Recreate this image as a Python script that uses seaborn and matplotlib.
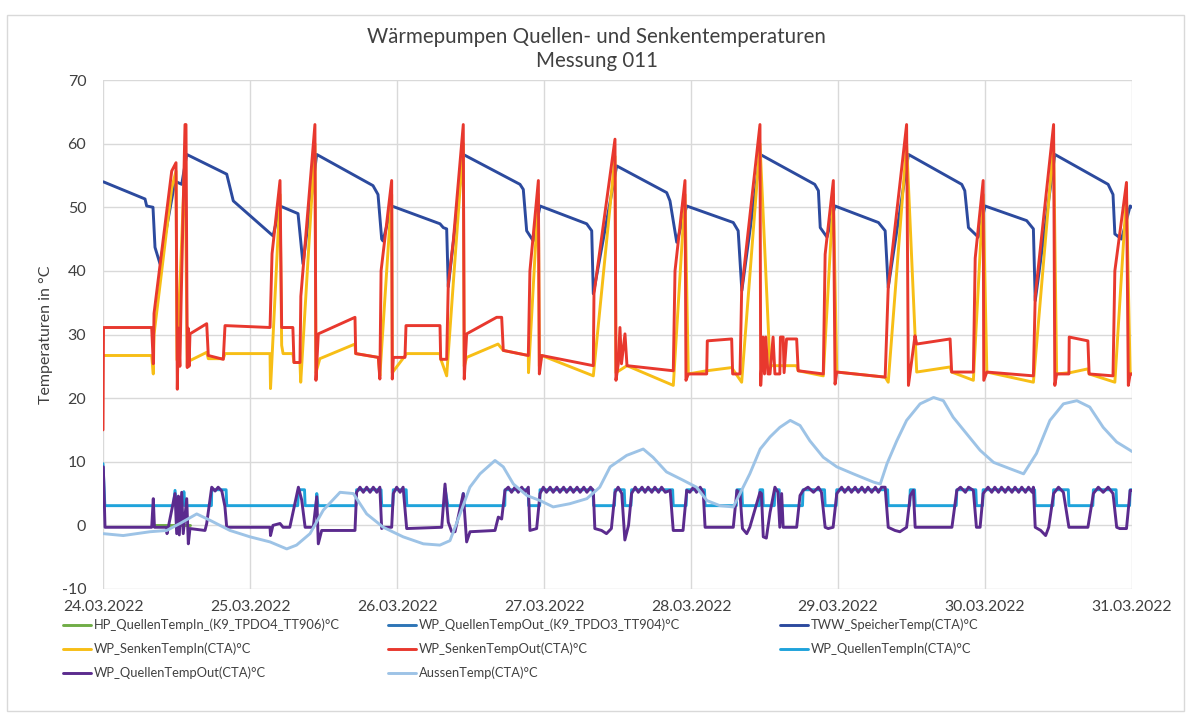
import matplotlib
matplotlib.use("Agg")
import matplotlib.pyplot as plt
from matplotlib.lines import Line2D
from matplotlib.patches import Rectangle
import seaborn as sns
import pandas as pd

# ---------------- data (time in hours since 24.03.2022 00:00) ----------------
date_labels = ["24.03.2022", "25.03.2022", "26.03.2022", "27.03.2022",
               "28.03.2022", "29.03.2022", "30.03.2022", "31.03.2022"]
y_ticks = [-10, 0, 10, 20, 30, 40, 50, 60, 70]

series_names = [
    "HP_QuellenTempIn_(K9_TPDO4_TT906)°C",
    "WP_QuellenTempOut_(K9_TPDO3_TT904)°C",
    "TWW_SpeicherTemp(CTA)°C",
    "WP_SenkenTempIn(CTA)°C",
    "WP_SenkenTempOut(CTA)°C",
    "WP_QuellenTempIn(CTA)°C",
    "WP_QuellenTempOut(CTA)°C",
    "AussenTemp(CTA)°C",
]

hp_in_h = [8.2, 14.2]
hp_in_v = [0.0, 0.0]

k9_out_h = []
k9_out_v = []

tww_h = [0.05, 6.86, 7.13, 8.16, 8.49, 9.31, 11.76, 12.85, 13.67, 20.2, 21.27, 27.76,
         28.9, 31.84, 32.65, 34.89, 44.08, 44.9, 45.5, 45.71, 47.13, 55.02, 55.56, 56.11,
         56.37, 58.82, 68.08, 68.62, 69.17, 70.25, 71.35, 78.97, 79.79, 80.05, 83.87,
         92.03, 92.57, 93.67, 95.3, 102.9, 103.7, 104.3, 107.3, 116.2, 116.8, 117.1,
         118.2, 119.5, 126.6, 127.7, 128.2, 131.5, 140.2, 140.7, 141.3, 142.9, 144.0,
         150.8, 151.9, 152.2, 155.4, 164.1, 164.9, 165.2, 166.3, 167.7, 168.0]
tww_v = [54.0, 51.3, 50.2, 50.0, 43.7, 41.1, 54.1, 53.6, 58.3, 55.2, 51.0, 45.5,
         50.2, 49.0, 41.1, 58.3, 53.4, 52.0, 45.0, 44.7, 50.2, 47.4, 46.8, 46.6,
         37.5, 58.3, 53.6, 52.8, 46.3, 44.7, 50.2, 47.4, 46.3, 36.4, 56.5,
         52.3, 51.0, 44.5, 50.2, 47.6, 46.3, 36.9, 58.3, 53.6, 52.6, 46.8,
         45.3, 50.2, 47.6, 46.3, 37.4, 58.3, 53.6, 52.6, 46.8, 45.3, 50.2,
         47.9, 46.6, 35.3, 58.3, 53.6, 52.0, 45.8, 45.0, 50.2, 50.0]

senk_in_h = [0.0, 7.95, 8.21, 8.33, 11.22, 11.92, 12.08, 13.39, 13.76, 14.2, 16.93, 17.19,
             19.64, 19.92, 27.27, 27.35, 28.9, 29.17, 29.4, 31.0, 31.18, 32.16, 32.28,
             34.6, 34.77, 35.4, 41.14, 41.26, 44.95, 45.2, 47.13, 47.23, 49.58, 55.02,
             55.2, 56.11, 58.82, 58.98, 59.37, 64.5, 65.35, 69.44, 69.47, 71.08, 71.24,
             71.63, 80.05, 83.59, 83.75, 85.55, 93.11, 95.02, 95.56, 98.56, 102.64,
             104.27, 107.26, 108.9, 113.25, 113.5, 117.6, 119.24, 119.8, 127.7, 128.2,
             131.2, 132.85, 138.3, 138.56, 142.1, 143.7, 144.3, 151.9, 155.2, 155.7,
             157.9, 160.8, 161.0, 165.2, 167.1, 167.7, 168.0]
senk_in_v = [26.7, 26.7, 23.8, 30.0, 53.0, 55.7, 26.0, 58.0, 25.0, 25.9, 27.2, 26.2,
             26.2, 27.0, 27.0, 21.5, 52.0, 28.3, 27.0, 27.0, 25.6, 25.6, 22.5,
             60.0, 24.0, 26.2, 28.5, 27.0, 26.4, 23.5, 52.0, 24.0, 27.0, 27.0,
             26.0, 23.5, 60.0, 25.0, 26.4, 28.5, 27.5, 26.7, 24.0, 52.0, 25.0,
             26.7, 23.5, 58.0, 24.0, 25.1, 22.0, 52.0, 23.8, 24.3, 24.8,
             22.5, 60.0, 25.1, 25.1, 24.3, 23.5, 52.0, 24.1, 23.3, 22.5,
             60.0, 24.1, 24.9, 24.1, 22.8, 52.0, 24.1, 22.5, 60.0, 23.8,
             24.0, 24.6, 23.8, 22.5, 52.0, 23.8, 23.8]

senk_out_h = [0.0, 0.08, 7.95, 8.21, 8.33, 11.22, 11.92, 12.13, 12.3, 12.55, 12.75, 13.39,
              13.55, 13.76, 13.9, 14.05, 14.2, 16.93, 17.19, 19.64, 19.92, 27.27, 27.6,
              28.9, 29.17, 31.0, 31.18, 32.16, 32.3, 34.6, 34.77, 35.15, 41.14, 41.26,
              44.95, 45.2, 45.4, 47.13, 47.23, 47.4, 49.3, 49.47, 55.02, 55.13, 56.11,
              56.37, 57.19, 58.82, 58.98, 59.37, 64.27, 65.09, 65.35, 69.44, 69.7, 71.08,
              71.24, 71.63, 80.05, 80.16, 83.59, 83.75, 84.13, 84.4, 84.65, 85.22, 85.55,
              93.11, 93.39, 95.02, 95.18, 95.56, 98.56, 98.66, 102.64, 102.8, 104.0,
              104.27, 107.26, 107.38, 107.75, 108.0, 108.2, 108.57, 108.9, 109.4, 109.7,
              110.5, 110.6, 111.05, 111.2, 111.6, 113.25, 113.5, 117.6, 117.9, 119.24,
              119.52, 119.8, 127.7, 128.2, 131.2, 131.5, 132.57, 132.85, 138.3, 138.56,
              142.1, 142.4, 143.7, 143.8, 144.3, 151.9, 152.2, 155.2, 155.4, 155.7,
              157.7, 157.75, 160.8, 161.0, 164.9, 165.2, 167.1, 167.4, 167.7, 168.0]
senk_out_v = [15.0, 31.1, 31.1, 25.4, 33.3, 55.7, 57.0, 21.4, 31.0, 25.0, 35.0, 63.0,
              63.0, 24.8, 31.0, 25.0, 30.1, 31.7, 26.7, 26.1, 31.4, 31.1, 42.7,
              54.2, 31.1, 31.1, 25.6, 25.6, 36.0, 63.0, 22.8, 30.1, 32.7, 27.0,
              26.4, 23.0, 40.0, 54.2, 23.0, 26.4, 26.4, 31.4, 31.4, 26.1, 26.1,
              37.9, 44.7, 63.0, 23.0, 30.1, 32.7, 32.7, 27.5, 26.7, 40.0, 54.2,
              23.8, 26.7, 25.1, 36.4, 60.7, 22.8, 25.4, 31.1, 25.4, 30.1, 25.1,
              24.3, 40.0, 54.2, 22.8, 23.8, 23.8, 29.0, 29.3, 23.8, 23.8,
              36.9, 63.0, 22.0, 29.6, 23.8, 29.6, 23.8, 23.8, 29.6, 23.8,
              23.8, 29.6, 29.6, 24.0, 29.3, 29.3, 24.3, 23.8, 42.6, 54.2,
              22.2, 24.1, 23.3, 37.4, 63.0, 22.0, 29.8, 28.5, 29.3, 24.1,
              24.1, 42.0, 54.2, 22.8, 24.1, 23.5, 36.0, 63.0, 22.0, 23.8,
              23.8, 29.6, 29.0, 23.8, 23.5, 40.0, 53.9, 22.0, 23.8, 23.8]

q_in_h = [0.0, 0.3, 11.5, 11.76, 12.0, 13.0, 13.2, 13.4, 17.7, 17.75, 20.1, 20.2,
          31.8, 31.9, 32.9, 33.0, 34.8, 34.9, 35.1, 41.3, 41.4, 45.4, 45.5, 47.3, 47.4,
          49.5, 49.6, 55.8, 55.84, 56.3, 58.7, 58.82, 58.9, 65.6, 65.63, 69.4, 69.5,
          71.3, 71.35, 80.0, 80.1, 83.5, 83.6, 85.1, 85.2, 86.2, 86.3, 93.0, 93.1,
          95.2, 95.3, 98.2, 98.3, 103.4, 103.5, 104.3, 104.4, 107.2, 107.26, 107.7,
          107.8, 109.6, 109.7, 110.4, 110.5, 114.2, 114.3, 117.8, 117.9, 119.7, 119.8,
          128.1, 128.2, 131.7, 131.8, 132.5, 132.6, 139.3, 139.4, 142.5, 142.6, 143.6,
          143.7, 152.1, 152.2, 155.1, 155.2, 157.6, 157.7, 161.6, 161.7, 165.4, 165.5,
          167.6, 167.7, 168.0]
q_in_v = [9.7, 3.1, 3.1, 5.5, 3.1, 3.1, 5.3, 3.1, 3.1, 5.6, 5.6, 3.1,
          3.1, 5.6, 5.6, 3.1, 3.1, 5.0, 3.1, 3.1, 5.6, 5.6, 3.1, 3.1, 5.6,
          5.6, 3.1, 3.1, 5.8, 3.1, 3.1, 5.0, 3.1, 3.1, 5.6, 5.6, 3.1,
          3.1, 5.6, 5.6, 3.1, 3.1, 5.6, 5.6, 3.1, 3.1, 5.6, 5.6, 3.1,
          3.1, 5.6, 5.6, 3.1, 3.1, 5.6, 5.6, 3.1, 3.1, 5.6, 5.6,
          3.1, 3.1, 5.6, 5.6, 3.1, 3.1, 5.6, 5.6, 3.1, 3.1, 5.6,
          5.6, 3.1, 3.1, 5.6, 5.6, 3.1, 3.1, 5.6, 5.6, 3.1, 3.1,
          5.6, 5.6, 3.1, 3.1, 5.6, 5.6, 3.1, 3.1, 5.6, 5.6, 3.1,
          3.1, 5.6, 5.6]

q_out_h = [0.05, 0.33, 7.95, 8.21, 8.4, 10.4, 10.45, 11.76, 12.03, 12.3, 12.46, 12.85,
           13.1, 13.67, 13.93, 14.2, 16.65, 16.93, 17.75, 18.3, 18.8, 19.4, 19.9, 20.2,
           27.27, 27.35, 27.75, 28.9, 29.4, 30.5, 31.35, 31.9, 32.44, 33.0, 34.33, 34.9,
           35.15, 35.7, 41.14, 41.4, 41.96, 42.5, 43.05, 43.6, 44.13, 44.7, 45.2, 45.5,
           45.76, 47.13, 47.4, 47.95, 48.5, 49.0, 49.58, 55.3, 55.84, 56.37, 56.93,
           57.47, 58.82, 59.37, 59.92, 64.0, 64.54, 65.09, 65.63, 66.17, 66.7, 67.26,
           67.8, 68.36, 68.9, 69.44, 69.7, 70.8, 71.35, 71.9, 72.4, 73.0, 73.5, 74.1,
           74.6, 75.2, 75.7, 76.3, 76.8, 77.4, 77.9, 78.5, 79.0, 79.6, 80.05, 80.3,
           81.4, 82.2, 83.0, 83.6, 84.1, 84.7, 85.2, 85.8, 86.3, 86.9, 87.4, 88.0,
           88.5, 89.0, 89.6, 90.1, 90.7, 91.2, 91.8, 92.6, 93.1, 94.7, 95.3, 95.8,
           96.4, 96.9, 97.5, 98.0, 98.3, 102.9, 103.5, 104.0, 104.4, 105.1, 105.6,
           107.26, 107.5, 107.8, 108.3, 108.9, 109.7, 110.2, 110.5, 110.8, 111.05,
           113.25, 113.8, 114.3, 115.1, 116.0, 116.8, 117.3, 117.9, 118.4, 119.2,
           119.8, 120.6, 121.1, 121.7, 122.2, 122.8, 123.3, 123.9, 124.4, 124.9, 125.5,
           126.1, 126.6, 127.1, 127.7, 128.2, 129.3, 130.1, 131.2, 131.8, 132.3, 132.6,
           138.6, 139.4, 140.0, 140.8, 141.3, 142.1, 142.6, 143.2, 143.7, 144.5, 145.1,
           145.6, 146.2, 146.7, 147.3, 147.8, 148.4, 148.9, 149.5, 150.0, 150.6, 151.1,
           151.7, 151.9, 152.2, 153.1, 153.9, 154.4, 155.2, 156.0, 156.8, 157.7, 160.8,
           161.7, 162.5, 163.3, 164.1, 164.9, 165.5, 166.0, 167.1, 167.7, 168.0]
q_out_v = [9.2, -0.3, -0.3, 4.2, -0.3, -0.3, -1.3, 5.0, -1.3, 4.6, -1.5, 5.2,
           -1.3, 4.2, -2.9, -0.5, -0.8, 0.3, 6.0, 5.4, 6.0, 5.4, 3.0, -0.3,
           -0.3, -1.6, 0.0, 0.3, -0.3, -0.3, 3.5, 6.0, 4.0, -0.3, -0.3, 4.5,
           -2.9, -0.8, -0.8, 5.2, 6.0, 5.2, 6.0, 5.2, 6.0, 5.2, 6.0, -0.5,
           -0.3, -0.3, 5.0, 6.0, 5.2, 6.0, -0.5, -0.3, 6.5, 0.5, -1.0,
           -1.0, 5.0, -2.6, -1.0, -0.8, 1.3, 1.0, 5.5, 6.0, 5.2, 6.0,
           5.2, 6.0, 5.2, 6.0, -0.8, -0.5, 5.0, 6.0, 5.2, 6.0, 5.2, 6.0,
           5.2, 6.0, 5.2, 6.0, 5.2, 6.0, 5.2, 6.0, 5.2, 6.0, 5.5, -0.5,
           -0.8, -1.3, -0.5, 5.2, 6.0, 5.0, -2.3, 0.0, 5.0, 6.0, 5.2, 6.0,
           5.2, 6.0, 5.2, 6.0, 5.2, 6.0, 5.2, 5.5, -0.8, -0.8, 5.5, 5.2,
           6.0, 5.2, 6.0, 5.2, -0.3, -0.3, 5.5, 5.0, -0.5, -1.3, -0.3,
           5.2, 5.0, -1.8, -2.0, 2.0, 6.0, 5.2, -0.3, 5.0, -0.3,
           -0.3, 4.7, 5.5, 6.0, 5.2, 6.0, 5.2, -0.3, -0.5, -0.3,
           5.0, 6.0, 5.2, 6.0, 5.2, 6.0, 5.2, 6.0, 5.2, 6.0, 5.2,
           6.0, 5.2, 6.0, 6.0, -0.3, -0.8, -1.0, -0.3, 4.7, 5.5, -0.3,
           -0.3, 5.5, 6.0, 5.2, 6.0, 5.5, -0.3, -0.3, 5.0, 6.0, 5.2,
           6.0, 5.2, 6.0, 5.2, 6.0, 5.2, 6.0, 5.2, 6.0, 5.2, 6.0,
           5.2, 6.0, -0.3, -0.8, -1.6, -0.3, 5.0, 6.0, 5.2, -0.3, -0.3,
           5.0, 6.0, 5.2, 6.0, 5.0, -0.3, -0.5, -0.5, 5.5, 5.5]

aussen_h = [0.05, 3.3, 7.67, 10.4, 12.57, 15.3, 17.47, 20.73, 24.0, 27.27, 30.0, 31.6,
            33.8, 35.97, 38.7, 40.87, 43.05, 45.76, 49.0, 52.3, 55.0, 56.65, 58.3, 59.9,
            61.55, 64.0, 65.35, 67.0, 69.2, 71.35, 73.5, 76.2, 79.0, 81.1, 82.8, 85.5,
            88.2, 89.8, 92.0, 94.7, 96.9, 98.6, 100.7, 102.9, 104.0, 105.6, 107.3, 108.9,
            110.5, 112.2, 113.8, 115.4, 117.6, 119.8, 122.5, 125.8, 126.9, 128.0, 129.6,
            131.2, 133.4, 135.6, 137.2, 138.8, 141.0, 143.2, 145.4, 148.1, 150.3, 152.4,
            154.6, 156.8, 159.0, 161.1, 163.3, 165.5, 167.7, 168.0]
aussen_v = [-1.3, -1.6, -1.0, -0.8, 0.3, 1.8, 0.8, -0.8, -1.8, -2.6, -3.7, -3.1,
            -1.3, 2.4, 5.2, 5.0, 1.8, -0.3, -1.8, -2.9, -3.1, -2.4, 1.8, 6.0,
            8.1, 10.2, 9.2, 6.5, 4.7, 3.9, 2.9, 3.4, 4.2, 6.0, 9.2, 11.0,
            12.0, 10.7, 8.4, 7.1, 6.0, 3.9, 3.1, 2.9, 5.0, 8.1, 12.0, 13.9,
            15.4, 16.5, 15.7, 13.3, 10.7, 9.2, 8.1, 6.8, 6.5, 9.7, 13.3,
            16.5, 19.1, 20.1, 19.6, 17.0, 14.4, 11.8, 9.9, 8.9, 8.1, 11.3,
            16.5, 19.1, 19.6, 18.6, 15.4, 13.1, 11.8, 11.6]

colors = ["#70AD47", "#2E75B6", "#2C4A9E", "#F7BE16", "#E8382E",
          "#1FA3DB", "#5B2B8E", "#9DC3E6"]

# ---------------- plotting ----------------
sns.set_theme(style="white")
plt.rcParams["font.family"] = ["Lato", "DejaVu Sans"]

fig = plt.figure(figsize=(11.86, 7.15), dpi=100)
ax = fig.add_axes([103 / 1186, 1 - 589 / 715, (1132 - 103) / 1186, (589 - 80) / 715])

data_h = [hp_in_h, k9_out_h, tww_h, senk_in_h, senk_out_h, q_in_h, q_out_h, aussen_h]
data_v = [hp_in_v, k9_out_v, tww_v, senk_in_v, senk_out_v, q_in_v, q_out_v, aussen_v]

for i, (name, hh, vv, c) in enumerate(zip(series_names, data_h, data_v, colors)):
    if len(hh) == 0:
        continue
    df = pd.DataFrame({"h": hh, "v": vv})
    sns.lineplot(data=df, x="h", y="v", ax=ax, color=c, linewidth=2.1,
                 estimator=None, sort=False, zorder=3 + i)

ax.set_xlim(0, 168)
ax.set_ylim(-10, 70)
ax.set_xticks([24 * i for i in range(len(date_labels))])
ax.set_xticklabels(date_labels, fontsize=11.3, color="#404040")
ax.set_yticks(y_ticks)
ax.set_yticklabels([str(t) for t in y_ticks], fontsize=11.5, color="#404040")
ax.tick_params(axis="x", pad=8, length=0)
ax.tick_params(axis="y", pad=12, length=0)
ax.grid(True, color="#D9D9D9", linewidth=1.0, zorder=0)
for s in ax.spines.values():
    s.set_visible(False)
ax.set_xlabel("")
ax.set_ylabel("Temperaturen in °C", fontsize=11.5, color="#404040", labelpad=6)
ax.get_legend() and ax.get_legend().remove()

fig.text(0.503, 1 - 37 / 715, "Wärmepumpen Quellen- und Senkentemperaturen",
         ha="center", va="center", fontsize=14.8, color="#404040")
fig.text(0.503, 1 - 61 / 715, "Messung 011",
         ha="center", va="center", fontsize=14.8, color="#404040")

# chart border
fig.patches.append(Rectangle((7 / 1186, 0.005), 1 - 9 / 1186, 1 - 15 / 715 - 0.005,
                             transform=fig.transFigure, fill=False,
                             edgecolor="#D9D9D9", linewidth=1.0))

# legend: three column blocks
handles = [Line2D([0], [0], color=c, linewidth=2.1) for c in colors]
cols = [[0, 3, 6], [1, 4, 7], [2, 5]]
col_x = [60, 385, 777]
for idxs, x in zip(cols, col_x):
    fig.legend([handles[i] for i in idxs], [series_names[i] for i in idxs],
               loc="upper left", bbox_to_anchor=(x / 1186, 1 - 616 / 715),
               frameon=False, fontsize=9.3, handlelength=2.2, handletextpad=0.2,
               labelspacing=0.9, borderaxespad=0, borderpad=0.2,
               labelcolor="#404040")

fig.savefig("out.png", dpi=100)
